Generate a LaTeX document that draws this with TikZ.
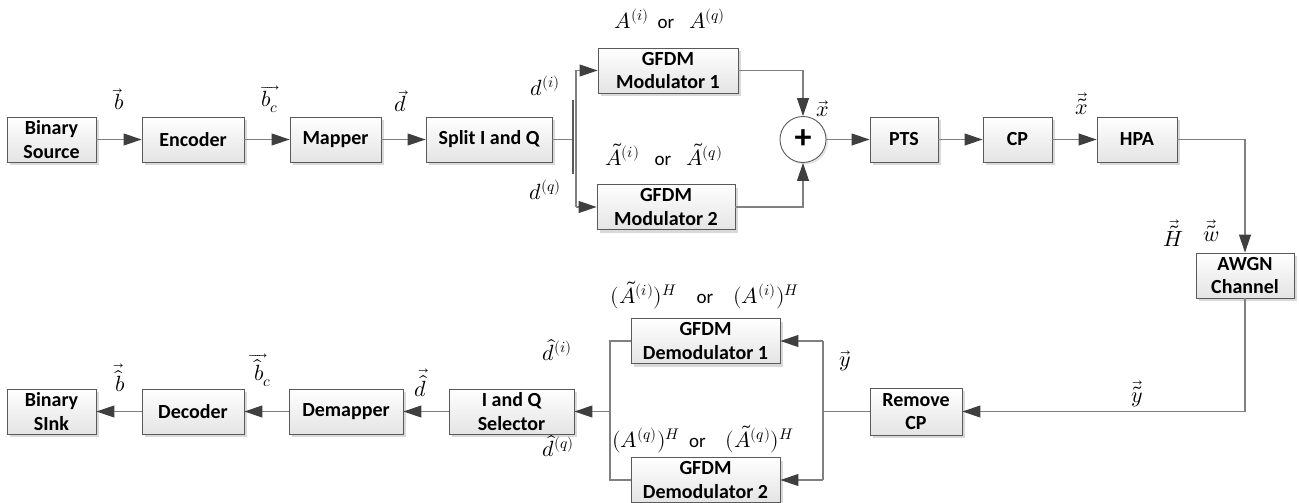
\documentclass[tikz,border=0pt]{standalone}
\usepackage{amsmath}
\usepackage{fontspec}
\usepackage{unicode-math}
\setmainfont{Carlito}
\setmathfont{Latin Modern Math}
\usetikzlibrary{arrows.meta,shadows}
\definecolor{ln}{HTML}{808080}
\definecolor{tipc}{HTML}{3F3F3F}
\definecolor{bd}{HTML}{5A5A5A}
\definecolor{boxbot}{HTML}{E4E4E4}
\newcommand{\orw}{{\fontsize{19}{20}\selectfont or}}
\tikzset{
 blk/.style={draw=bd, line width=0.9pt, top color=white, bottom color=boxbot,
   font=\fontsize{20}{23.5}\selectfont\bfseries, align=center, inner sep=0pt,
   minimum height=45pt,
   drop shadow={shadow xshift=3pt, shadow yshift=-3pt, fill=black!25, opacity=0.6}},
 wire/.style={draw=ln, line width=1.1pt},
 arr/.style={wire, -{Triangle[length=18pt,width=12pt,color=tipc]}},
 lbl/.style={font=\fontsize{22}{24}\selectfont, inner sep=0pt},
}
\begin{document}
\begin{tikzpicture}[x=1pt,y=-1pt]
\useasboundingbox (0,0) rectangle (1299,503);
% top row
\node[blk, minimum width=89pt] (src) at (51.5,139.5) {Binary\\Source};
\node[blk, minimum width=102pt] (enc) at (193,139.5) {Encoder};
\node[blk, minimum width=91pt] (map) at (335.5,139.5) {Mapper};
\node[blk, minimum width=126pt] (split) at (489,139.5) {Split I and Q};
\node[blk, minimum width=140pt] (mod1) at (668,70.5) {GFDM\\Modulator 1};
\node[blk, minimum width=138pt] (mod2) at (666,207) {GFDM\\Modulator 2};
\node[circle, draw=bd, line width=0.9pt, fill=white, minimum size=46pt, inner sep=0pt,
  font=\fontsize{34}{34}\selectfont\bfseries,
  drop shadow={shadow xshift=2pt, shadow yshift=-2pt, fill=black!20, opacity=0.5}] (sum) at (803,139.5) {+};
\node[blk, minimum width=68pt] (pts) at (904,139.5) {PTS};
\node[blk, minimum width=69pt] (cp) at (1017.5,139.5) {CP};
\node[blk, minimum width=80pt] (hpa) at (1137,139.5) {HPA};
\node[blk, minimum width=98pt] (awgn) at (1245,275.5) {AWGN\\Channel};
% bottom row
\node[blk, minimum width=92pt, minimum height=47pt] (rcp) at (916,411.5) {Remove\\CP};
\node[blk, minimum width=149pt] (dem1) at (705.5,341) {GFDM\\Demodulator 1};
\node[blk, minimum width=149pt] (dem2) at (705.5,480) {GFDM\\Demodulator 2};
\node[blk, minimum width=125pt] (iqs) at (511.5,411.5) {I and Q\\Selector};
\node[blk, minimum width=114pt] (demap) at (346,411.5) {Demapper};
\node[blk, minimum width=102pt] (dec) at (193,411.5) {Decoder};
\node[blk, minimum width=89pt] (sink) at (51.5,411.5) {Binary\\SInk};
% top connectors
\draw[arr] (src) -- (enc);
\draw[arr] (enc) -- (map);
\draw[arr] (map) -- (split);
\coordinate (bt) at (573,100);
\coordinate (bb) at (573,174);
\coordinate (bm) at (573,139.5);
\draw[wire] (split.east) -- (bm);
\draw[draw=bd, line width=1.3pt] (bt) -- (bb);
\coordinate (b1) at (576,70.5);
\coordinate (b2) at (576,207);
\draw[wire] (b1) -- (b2);
\draw[arr] (b1) -- (mod1.west);
\draw[arr] (b2) -- (mod2.west);
\draw[arr] (mod1.east) -| (sum.north);
\draw[arr] (mod2.east) -| (sum.south);
\draw[arr] (sum) -- (pts);
\draw[arr] (pts) -- (cp);
\draw[arr] (cp) -- (hpa);
\draw[arr] (hpa.east) -| (awgn.north);
\draw[arr] (awgn.south) |- (rcp.east);
% receiver
\coordinate (ym) at (823,411.5);
\coordinate (y1) at (823,341);
\coordinate (y2) at (823,480);
\draw[wire] (rcp.west) -- (ym);
\draw[wire] (y1) -- (y2);
\draw[arr] (y1) -- (dem1.east);
\draw[arr] (y2) -- (dem2.east);
\coordinate (z1) at (610,341);
\coordinate (z2) at (610,480);
\coordinate (zm) at (610,411.5);
\draw[wire] (dem1.west) -- (z1) -- (z2) -- (dem2.west);
\draw[arr] (zm) -- (iqs.east);
\draw[arr] (iqs) -- (demap);
\draw[arr] (demap) -- (dec);
\draw[arr] (dec) -- (sink);
% labels
\node[lbl] (lb) at (119,99) {$\vec{b}$};
\node[lbl] (lbc) at (270,99) {$\overrightarrow{b_c}$};
\node[lbl] (ld) at (400,101) {$\vec{d}$};
\node[lbl] (ldi) at (545,86) {$d^{(i)}$};
\node[lbl] (ldq) at (545,190) {$d^{(q)}$};
\node[lbl] (lA) at (670,19) {$A^{(i)}$\ \,\orw\ \ \ $A^{(q)}$};
\node[lbl] (lAt) at (664,154) {$\tilde{A}^{(i)}$\ \ \ \orw\ \ \ $\tilde{A}^{(q)}$};
\node[lbl] (lx) at (823,109) {$\vec{x}$};
\node[lbl] (lxt) at (1082,104) {$\vec{\tilde{x}}$};
\node[lbl] (lH) at (1173,233) {$\vec{\tilde{H}}$};
\node[lbl] (lw) at (1211,231) {$\vec{\tilde{w}}$};
\node[lbl] (lyt) at (1137,394) {$\vec{\tilde{y}}$};
\node[lbl] (ly) at (845,361) {$\vec{y}$};
\node[lbl] (lAH1) at (705,295) {$(\tilde{A}^{(i)})^{H}$\ \ \ \ \orw\ \ \ \ $(A^{(i)})^{H}$};
\node[lbl] (lAH2) at (703,439) {$(A^{(q)})^{H}$\ \,\orw\ \ \ \ $(\tilde{A}^{(q)})^{H}$};
\node[lbl] (ldhi) at (557,350) {$\hat{d}^{(i)}$};
\node[lbl] (ldhq) at (558,446) {$\hat{d}^{(q)}$};
\node[lbl] (ldh) at (420,383) {$\vec{\hat{d}}$};
\node[lbl] (lbch) at (263,370) {$\overrightarrow{\hat{b}_c}$};
\node[lbl] (lbh) at (120,378) {$\vec{\hat{b}}$};
\end{tikzpicture}
\end{document}
